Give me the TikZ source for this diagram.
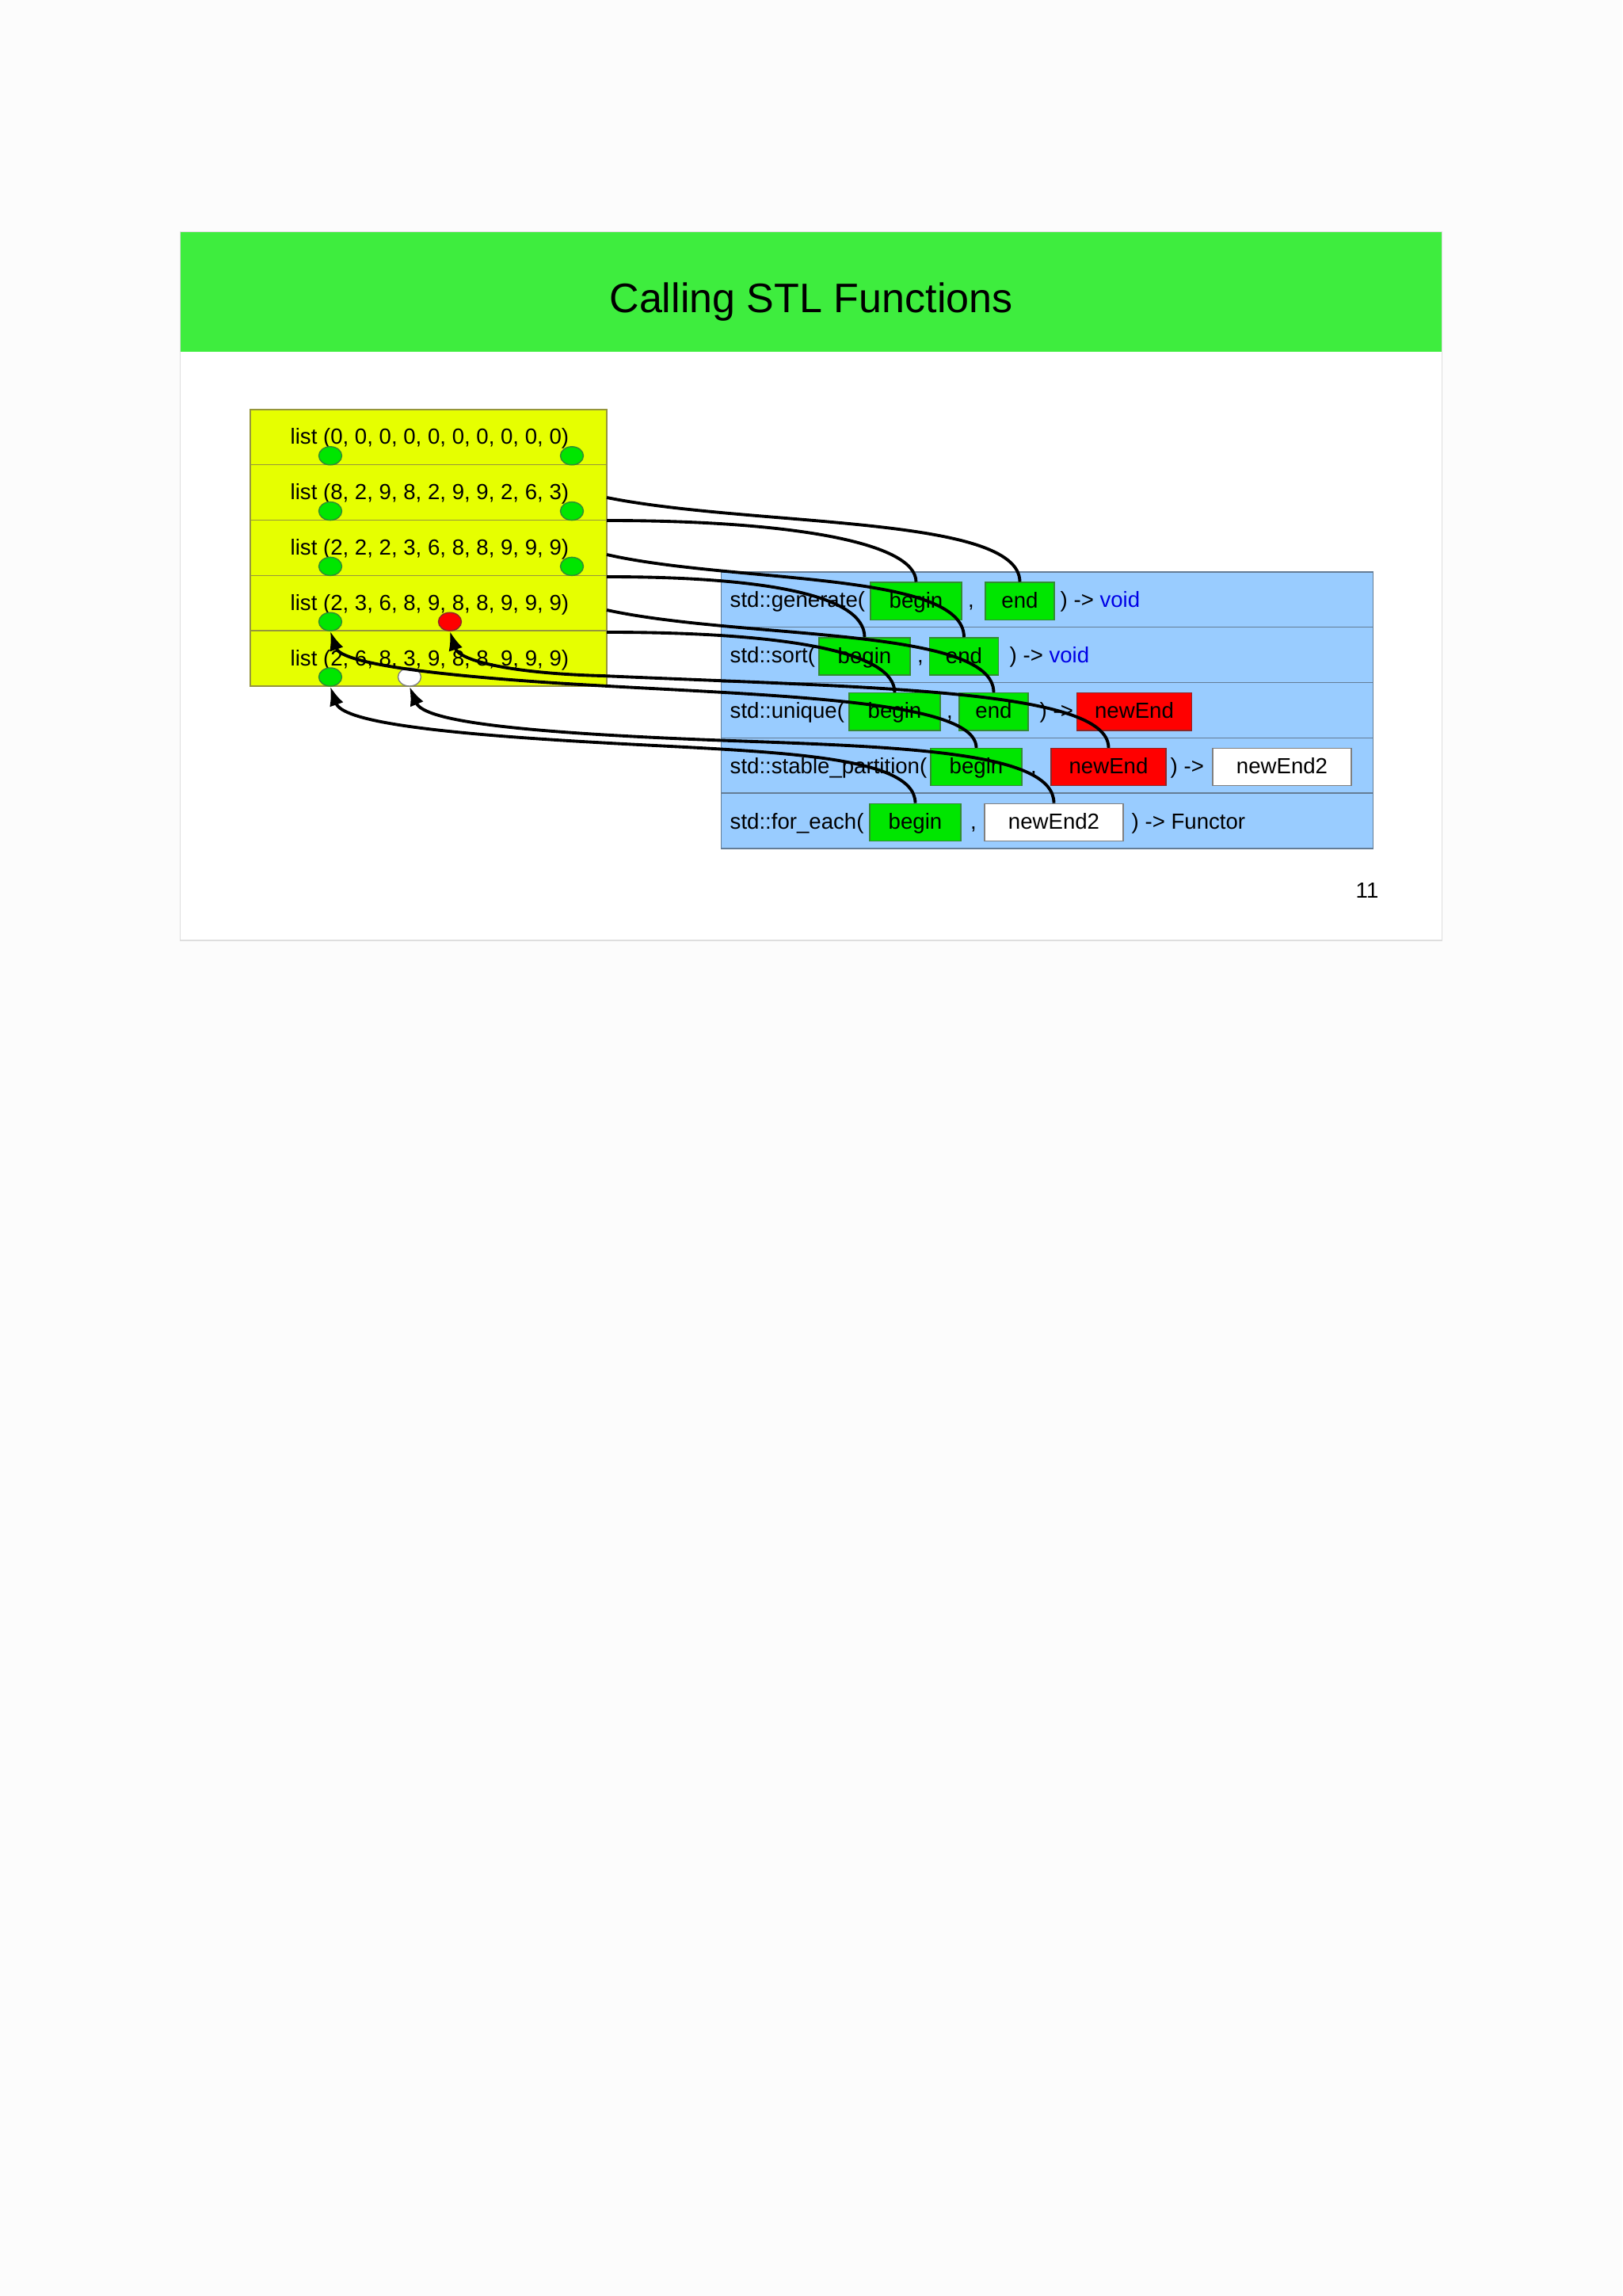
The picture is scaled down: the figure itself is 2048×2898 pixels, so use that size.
\documentclass[tikz,border=0pt]{standalone}
\usepackage{fontspec}
\setmainfont{Liberation Sans}
\usetikzlibrary{arrows.meta,shapes.geometric}
\definecolor{pagebg}{RGB}{252,252,252}
\definecolor{slideline}{RGB}{222,222,222}
\definecolor{hdr}{RGB}{62,237,62}
\definecolor{lyel}{RGB}{230,255,0}
\definecolor{yelline}{RGB}{150,150,60}
\definecolor{lblue}{RGB}{153,204,255}
\definecolor{blueline}{RGB}{100,125,150}
\definecolor{bgreen}{RGB}{0,230,0}
\definecolor{greenline}{RGB}{50,140,50}
\definecolor{bred}{RGB}{255,0,0}
\definecolor{redline}{RGB}{140,40,40}
\definecolor{voidblue}{RGB}{0,0,230}
\begin{document}
\begin{tikzpicture}[x=0.01cm,y=-0.01cm,
  every node/.style={font=\fontsize{7.85pt}{9pt}\selectfont, inner sep=0pt},
  yrow/.style={draw=yelline, fill=lyel, line width=0.4pt, minimum width=4.5cm, minimum height=0.698cm},
  brow/.style={draw=blueline, fill=lblue, line width=0.4pt, minimum width=8.22cm, minimum height=0.698cm},
  lbl/.style={anchor=base west},
  argbox/.style={draw=greenline, fill=bgreen, line width=0.4pt, minimum height=0.47cm, text height=7pt, text depth=2.16pt},
  beginbox/.style={argbox, minimum width=1.15cm},
  endbox/.style={argbox, minimum width=0.87cm},
  redbox/.style={argbox, draw=redline, fill=bred, minimum width=1.45cm},
  whitebox/.style={argbox, draw=gray, fill=white, minimum width=1.75cm},
  commatext/.style={anchor=base},
  elldot/.style={ellipse, minimum width=0.29cm, minimum height=0.23cm, draw=greenline, fill=bgreen, line width=0.4pt},
  reddot/.style={elldot, draw=redline, fill=bred},
  whitedot/.style={elldot, draw=gray, fill=white},
  argline/.style={line width=1.1pt, draw=black},
  retline/.style={argline, {Latex[length=6.8pt,width=5.2pt]}-}
]
% page and slide
\fill[pagebg] (0,0) rectangle (2048,2898);
\useasboundingbox (0,0) rectangle (2048,2898);
\node[draw=slideline, fill=white, line width=0.5pt, minimum width=15.92cm, minimum height=8.94cm] (slide) at (1024,740) {};
\node[fill=hdr, minimum width=15.92cm, minimum height=1.51cm] (hdrbar) at (1024,368.5) {};
\node[anchor=base, font=\fontsize{14.8pt}{18pt}\selectfont] (title) at (1024,395) {Calling STL Functions};
\node[anchor=base] (pg) at (1726,1133) {11};

% list rows
\node[yrow] (r1) at (541,551.9) {};
\node[yrow] (r2) at (541,621.7) {};
\node[yrow] (r3) at (541,691.5) {};
\node[yrow] (r4) at (541,761.3) {};
\node[yrow] (r5) at (541,831.1) {};
\node[lbl] (l1) at (366,561) {list (0, 0, 0, 0, 0, 0, 0, 0, 0, 0)};
\node[lbl] (l2) at (366,630.8) {list (8, 2, 9, 8, 2, 9, 9, 2, 6, 3)};
\node[lbl] (l3) at (366,700.6) {list (2, 2, 2, 3, 6, 8, 8, 9, 9, 9)};
\node[lbl] (l4) at (366,770.4) {list (2, 3, 6, 8, 9, 8, 8, 9, 9, 9)};
\node[lbl] (l5) at (366,840.2) {list (2, 6, 8, 3, 9, 8, 8, 9, 9, 9)};

% function rows
\node[brow] (f1) at (1322,756.9) {};
\node[brow] (f2) at (1322,826.7) {};
\node[brow] (f3) at (1322,896.5) {};
\node[brow] (f4) at (1322,966.3) {};
\node[brow] (f5) at (1322,1036.1) {};
\node[lbl] (fl1) at (921,767) {std::generate(};
\node[lbl] (fl2) at (921,836.8) {std::sort(};
\node[lbl] (fl3) at (921,906.6) {std::unique(};
\node[lbl] (fl4) at (921,976.4) {std::stable\_partition(};
\node[lbl] (fl5) at (921,1046.2) {std::for\_each(};

% argument boxes
\node[beginbox] (gb) at (1156.5,758.7) {begin};
\node[endbox] (ge) at (1287.5,758.7) {end};
\node[beginbox] (sb) at (1091.5,828.5) {begin};
\node[endbox] (se) at (1217,828.5) {end};
\node[beginbox] (ub) at (1129.5,898.3) {begin};
\node[endbox] (ue) at (1254.5,898.3) {end};
\node[redbox] (un) at (1432,898.3) {newEnd};
\node[beginbox] (pb) at (1232.5,968.1) {begin};
\node[redbox] (pn) at (1399.5,968.1) {newEnd};
\node[whitebox] (pw) at (1618.5,968.1) {newEnd2};
\node[beginbox] (fb) at (1155.5,1037.9) {begin};
\node[whitebox] (fw) at (1330.5,1037.9) {newEnd2};

% commas and tails
\node[commatext] (c1) at (1226,767) {,};
\node[commatext] (c2) at (1162,836.8) {,};
\node[commatext] (c3) at (1199,906.6) {,};
\node[commatext] (c4) at (1305,976.4) {,};
\node[commatext] (c5) at (1229,1046.2) {,};
\node[lbl] (t1) at (1338,767) {) -> \textcolor{voidblue}{void}};
\node[lbl] (t2) at (1274,836.8) {) -> \textcolor{voidblue}{void}};
\node[lbl] (t3) at (1312,906.6) {) ->};
\node[lbl] (t4) at (1477,976.4) {) ->};
\node[lbl] (t5) at (1428,1046.2) {) -> Functor};

% iterator markers
\node[elldot] (e1l) at (417,575.3) {};
\node[elldot] (e1r) at (722,575.3) {};
\node[elldot] (e2l) at (417,645.1) {};
\node[elldot] (e2r) at (722,645.1) {};
\node[elldot] (e3l) at (417,714.9) {};
\node[elldot] (e3r) at (722,714.9) {};
\node[elldot] (e4l) at (417,784.7) {};
\node[reddot] (e4r) at (568,784.7) {};
\node[elldot] (e5l) at (417,854.5) {};
\node[whitedot] (e5w) at (517,854.5) {};

% connector start points on the list block
\coordinate (o1) at (766,628);
\coordinate (o2) at (766,657);
\coordinate (o3) at (766,700);
\coordinate (o4) at (766,728);
\coordinate (o5) at (766,770);
\coordinate (o6) at (766,798);

% argument connectors
\draw[argline] (o1) .. controls (950,665) and (1287.5,650) .. (ge.north);
\draw[argline] (o2) .. controls (1000,657) and (1156.5,685) .. (gb.north);
\draw[argline] (o3) .. controls (924,736) and (1217,721) .. (se.north);
\draw[argline] (o4) .. controls (960,728) and (1091.5,750) .. (sb.north);
\draw[argline] (o5) .. controls (936,807) and (1254.5,791) .. (ue.north);
\draw[argline] (o6) .. controls (990,798) and (1129.5,822) .. (ub.north);

% arrowed connectors
\draw[retline] (e4r.south) .. controls (580,835) and (650,850) .. (760,853) .. controls (1100,868) and (1399.5,870) .. (pn.north);
\draw[retline] (e4l.south) .. controls (430,835) and (520,850) .. (700,862) .. controls (950,878) and (1232.5,880) .. (pb.north);
\draw[retline] (e5w.south) .. controls (535,910) and (650,925) .. (924,935) .. controls (1150,943) and (1330.5,950) .. (fw.north);
\draw[retline] (e5l.south) .. controls (432,910) and (540,925) .. (752,937) .. controls (960,949) and (1155.5,950) .. (fb.north);
\end{tikzpicture}
\end{document}
